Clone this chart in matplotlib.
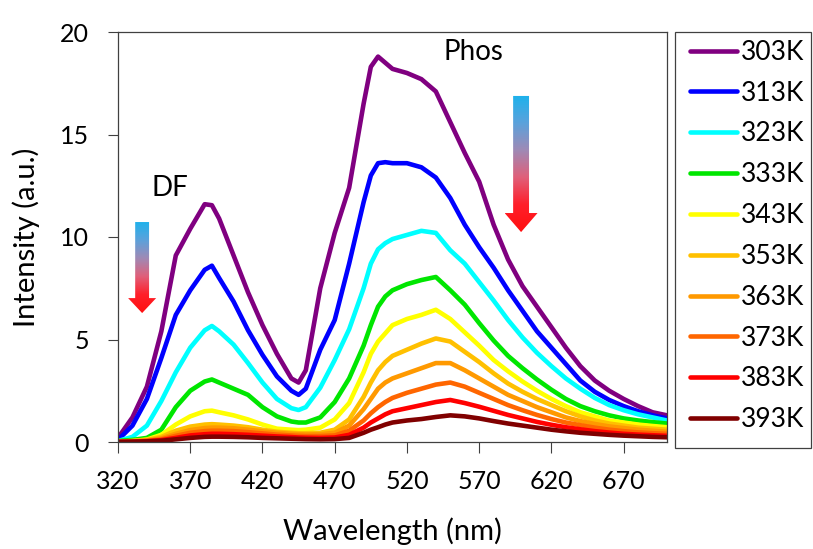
import numpy as np
import matplotlib
matplotlib.use("Agg")
import matplotlib.pyplot as plt
from matplotlib.colors import LinearSegmentedColormap
from matplotlib.patches import Polygon, Rectangle

plt.rcParams["font.family"] = ["Lato", "DejaVu Sans"]

# wavelength grid (nm) shared by every spectrum
wavelength = [320, 330, 340, 350, 360, 370, 380, 385, 390, 400, 410, 420, 430,
              440, 445, 450, 460, 470, 480, 490, 495, 500, 505, 510, 520, 530,
              540, 550, 560, 570, 580, 590, 600, 610, 620, 630, 640, 650, 660,
              670, 680, 690, 700]

labels = ["303K", "313K", "323K", "333K", "343K",
          "353K", "363K", "373K", "383K", "393K"]
colors = ["#800080", "#0000FF", "#00FFFF", "#00E600", "#FFFF00",
          "#FFC000", "#FF9900", "#FF6600", "#FF0000", "#800000"]

i_303 = [0.2, 1.2, 2.7, 5.4, 9.1, 10.4, 11.6, 11.55, 10.9, 9.1, 7.3, 5.7, 4.3,
         3.1, 2.9, 3.5, 7.5, 10.2, 12.4, 16.5, 18.3, 18.8, 18.5, 18.2, 18.0, 17.7,
         17.1, 15.6, 14.1, 12.7, 10.6, 8.9, 7.6, 6.6, 5.6, 4.6, 3.7, 3.0, 2.5,
         2.1, 1.75, 1.45, 1.3]
i_313 = [0.1, 0.8, 2.1, 4.1, 6.2, 7.4, 8.4, 8.6, 8.0, 6.85, 5.45, 4.25, 3.2,
         2.5, 2.3, 2.6, 4.5, 5.95, 8.7, 11.7, 13.0, 13.6, 13.65, 13.6, 13.6, 13.4,
         12.9, 11.9, 10.6, 9.5, 8.5, 7.4, 6.4, 5.4, 4.6, 3.8, 3.0, 2.45, 2.05,
         1.75, 1.5, 1.3, 1.15]
i_323 = [0.05, 0.25, 0.8, 2.0, 3.4, 4.6, 5.45, 5.66, 5.4, 4.75, 3.85, 2.9, 2.1,
         1.65, 1.56, 1.7, 2.65, 4.0, 5.5, 7.5, 8.7, 9.4, 9.7, 9.9, 10.1, 10.3,
         10.2, 9.35, 8.7, 7.8, 6.9, 5.95, 5.1, 4.35, 3.7, 3.1, 2.6, 2.15, 1.8,
         1.55, 1.35, 1.2, 1.05]
i_333 = [0.05, 0.1, 0.2, 0.6, 1.7, 2.5, 2.95, 3.05, 2.9, 2.6, 2.3, 1.7, 1.25,
         1.0, 0.95, 0.95, 1.2, 1.95, 3.1, 4.7, 5.7, 6.6, 7.1, 7.4, 7.7, 7.9,
         8.05, 7.4, 6.7, 5.8, 4.95, 4.2, 3.6, 3.05, 2.55, 2.1, 1.75, 1.5, 1.3,
         1.15, 1.05, 0.97, 0.9]
i_343 = [0.02, 0.05, 0.12, 0.35, 0.85, 1.25, 1.5, 1.53, 1.45, 1.3, 1.1, 0.85, 0.65,
         0.6, 0.58, 0.6, 0.7, 1.1, 1.9, 3.4, 4.3, 4.9, 5.3, 5.7, 6.0, 6.2,
         6.45, 6.0, 5.35, 4.7, 4.0, 3.45, 2.95, 2.5, 2.1, 1.75, 1.45, 1.25, 1.05,
         0.95, 0.85, 0.78, 0.72]
i_353 = [0.02, 0.04, 0.1, 0.25, 0.55, 0.75, 0.85, 0.87, 0.85, 0.8, 0.72, 0.6, 0.5,
         0.45, 0.43, 0.43, 0.45, 0.6, 1.1, 2.2, 2.9, 3.5, 3.9, 4.2, 4.5, 4.8,
         5.05, 4.9, 4.4, 3.9, 3.35, 2.85, 2.45, 2.1, 1.8, 1.5, 1.25, 1.05, 0.9,
         0.8, 0.7, 0.65, 0.6]
i_363 = [0.02, 0.03, 0.07, 0.18, 0.4, 0.58, 0.68, 0.7, 0.7, 0.67, 0.6, 0.52, 0.45,
         0.4, 0.38, 0.37, 0.38, 0.45, 0.8, 1.6, 2.1, 2.6, 2.9, 3.1, 3.35, 3.6,
         3.85, 3.85, 3.5, 3.1, 2.7, 2.3, 2.0, 1.7, 1.45, 1.2, 1.02, 0.88, 0.76,
         0.68, 0.6, 0.55, 0.5]
i_373 = [0.01, 0.02, 0.05, 0.13, 0.3, 0.45, 0.53, 0.55, 0.55, 0.53, 0.48, 0.42, 0.36,
         0.32, 0.3, 0.29, 0.29, 0.32, 0.55, 1.05, 1.4, 1.7, 1.95, 2.15, 2.4, 2.6,
         2.8, 2.9, 2.7, 2.4, 2.1, 1.8, 1.55, 1.32, 1.12, 0.95, 0.82, 0.7, 0.6,
         0.53, 0.47, 0.43, 0.4]
i_383 = [0.01, 0.02, 0.04, 0.09, 0.2, 0.32, 0.38, 0.4, 0.4, 0.38, 0.35, 0.31, 0.27,
         0.24, 0.22, 0.21, 0.2, 0.22, 0.35, 0.7, 0.95, 1.15, 1.35, 1.5, 1.65, 1.8,
         1.95, 2.05, 1.9, 1.72, 1.52, 1.32, 1.15, 0.98, 0.84, 0.72, 0.62, 0.53, 0.46,
         0.4, 0.36, 0.33, 0.3]
i_393 = [0.0, 0.01, 0.03, 0.06, 0.13, 0.2, 0.25, 0.26, 0.26, 0.25, 0.23, 0.2, 0.18,
         0.16, 0.15, 0.14, 0.13, 0.14, 0.2, 0.45, 0.6, 0.72, 0.85, 0.95, 1.05, 1.12,
         1.22, 1.3, 1.25, 1.15, 1.02, 0.9, 0.8, 0.7, 0.6, 0.52, 0.45, 0.4, 0.35,
         0.31, 0.28, 0.25, 0.23]

spectra = [i_303, i_313, i_323, i_333, i_343, i_353, i_363, i_373, i_383, i_393]

arrow_cmap = LinearSegmentedColormap.from_list(
    "arrow", ["#1CB2EC", "#5AA2DC", "#9E8AB6", "#E0607A", "#FF1F2A", "#FF1010"])


def gradient_arrow(ax, xc, y_top, y_head, y_tip, half_shaft, half_head):
    pts = [(xc - half_shaft, y_top), (xc + half_shaft, y_top),
           (xc + half_shaft, y_head), (xc + half_head, y_head),
           (xc, y_tip), (xc - half_head, y_head), (xc - half_shaft, y_head)]
    poly = Polygon(pts, closed=True, facecolor="none", edgecolor="none",
                   transform=ax.transData)
    ax.add_patch(poly)
    grad = np.linspace(0, 1, 256).reshape(-1, 1)
    im = ax.imshow(grad, cmap=arrow_cmap, aspect="auto", origin="upper",
                   extent=(xc - half_head, xc + half_head, y_tip, y_top),
                   zorder=3, interpolation="bilinear")
    im.set_clip_path(poly)


fig = plt.figure(figsize=(8.13, 5.49), dpi=100)
ax = fig.add_axes([118 / 813, 1 - 442 / 549, 549 / 813, 410 / 549])

lines = []
for vals, lab, col in zip(spectra, labels, colors):
    ln, = ax.plot(wavelength, vals, color=col, lw=3.3, label=lab,
                  solid_joinstyle="round", solid_capstyle="round")
    lines.append(ln)

gradient_arrow(ax, 336.7, 10.73, 7.02, 6.29, 4.8, 9.7)
gradient_arrow(ax, 599.0, 16.88, 11.17, 10.24, 5.5, 11.4)

ax.text(356, 12.4, "DF", fontsize=20, ha="center", va="center")
ax.text(566, 19.0, "Phos", fontsize=20, ha="center", va="center")

ax.set_xlim(320, 700)
ax.set_ylim(0, 20)
ax.set_xticks(np.arange(320, 701, 50))
ax.set_yticks([0, 5, 10, 15, 20])
ax.tick_params(axis="x", direction="out", length=8, width=0.8, pad=12,
               labelsize=18, color="#404040")
ax.tick_params(axis="y", direction="out", length=7, width=0.8, pad=14,
               labelsize=18, color="#404040")
for sp in ax.spines.values():
    sp.set_color("#404040")
    sp.set_linewidth(0.9)

ax.set_xlabel("Wavelength (nm)", fontsize=21, labelpad=18)
ax.set_ylabel("Intensity (a.u.)", fontsize=21, labelpad=14)

# legend box on the right
fig.patches.append(Rectangle((675 / 813, 1 - 448 / 549), 136 / 813, 416 / 549,
                             transform=fig.transFigure, facecolor="white",
                             edgecolor="#404040", linewidth=0.9))
fig.legend(handles=lines, loc="center", frameon=False,
           bbox_to_anchor=((675 + 72) / 813, 1 - 236 / 549),
           fontsize=19, handlelength=1.8, handletextpad=0.15,
           labelspacing=0.6, borderaxespad=0)

fig.savefig("out.png", dpi=100)
